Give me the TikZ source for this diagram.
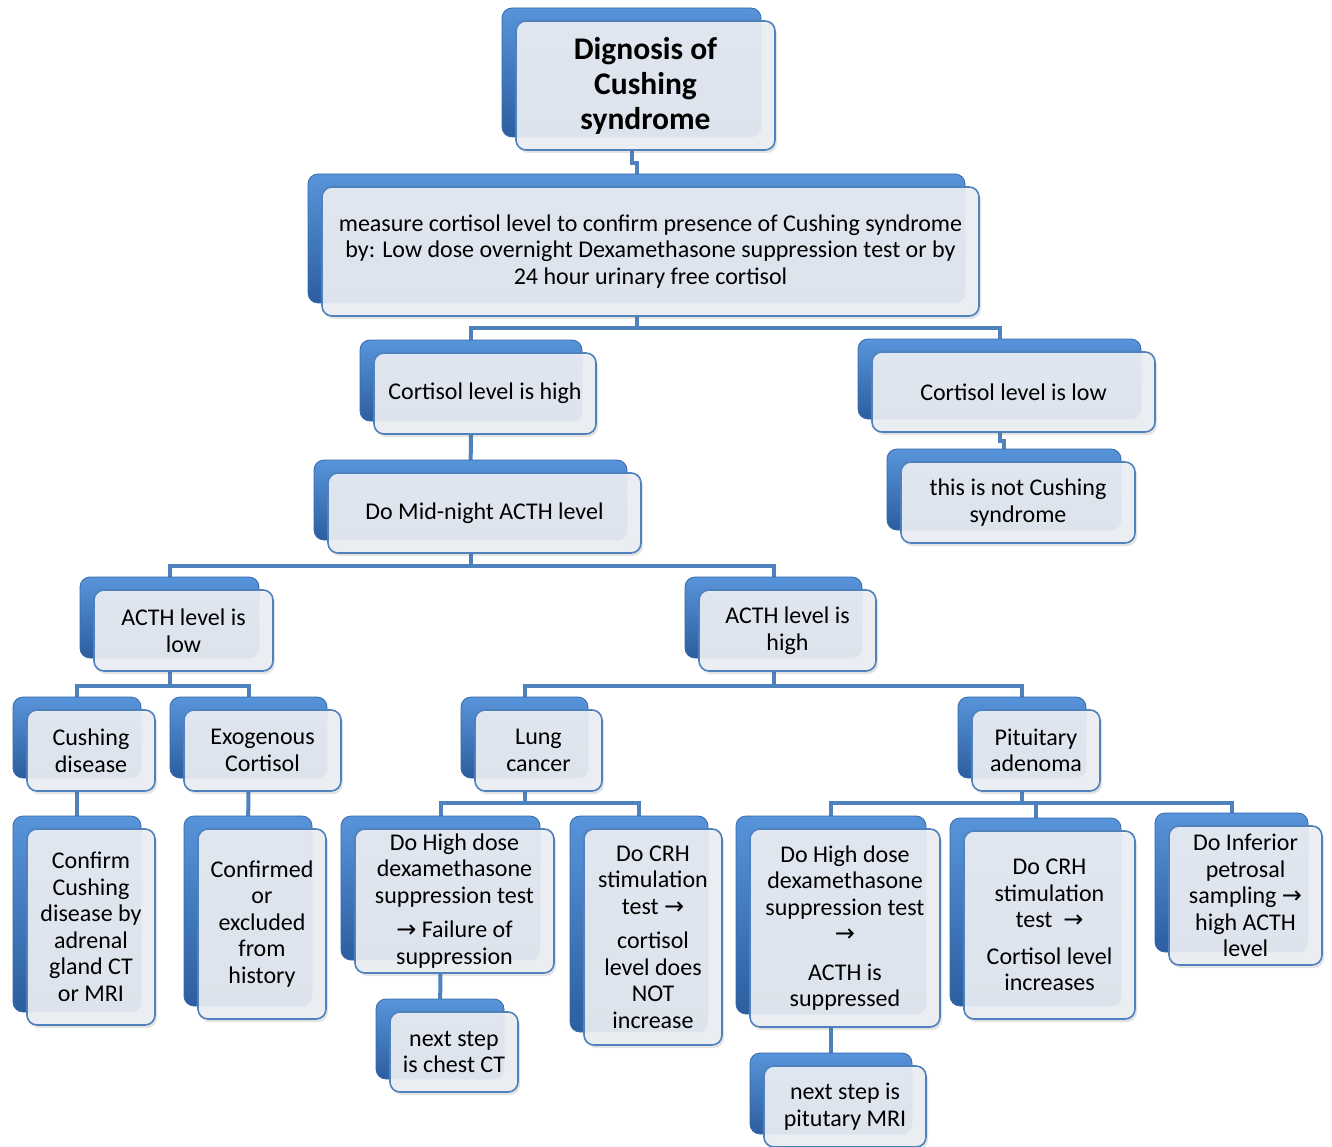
\documentclass[tikz,border=0pt]{standalone}
\usepackage{fontspec}
\setmainfont{Carlito}
\newfontfamily\arrowfont{DejaVu Sans}
\usetikzlibrary{shadows,backgrounds}
\definecolor{linkblue}{RGB}{79,129,189}
\definecolor{backtop}{RGB}{88,148,218}
\definecolor{backbot}{RGB}{44,94,160}
\definecolor{backedge}{RGB}{55,105,170}
\definecolor{frontfill}{RGB}{236,239,244}
\definecolor{frontedge}{RGB}{79,129,189}
\newcommand{\ra}{{\arrowfont\symbol{"2192}}}
\tikzset{
  stepbox/.style={rounded corners=10pt, draw=frontedge, line width=1.6pt,
    fill=frontfill, fill opacity=0.92, text opacity=1, inner sep=0pt, align=center,
    font=\fontsize{24}{26.5}\selectfont,
    general shadow={shadow xshift=-14pt, shadow yshift=13pt, fill opacity=1,
      draw=backedge, line width=0.8pt, top color=backtop, bottom color=backbot},
    drop shadow={shadow xshift=2pt, shadow yshift=-3pt, opacity=0.18, fill=black!60}},
  titlebox/.style={stepbox, font=\fontsize{31.5}{35}\selectfont\bfseries},
  link/.style={draw=linkblue, line width=4pt}
}
\begin{document}
\begin{tikzpicture}[x=1pt,y=-1pt]
\useasboundingbox (0,0) rectangle (1332,1147);
\node[titlebox, minimum width=259, minimum height=129] (title) at (645.5,85.5) {Dignosis of\\Cushing\\syndrome};
\node[stepbox, minimum width=657, minimum height=129] (meas) at (650.5,251.5) {measure cortisol level to confirm presence of Cushing syndrome\\by: Low dose overnight Dexamethasone suppression test or by\\24 hour urinary free cortisol};
\node[stepbox, minimum width=222, minimum height=81] (hi) at (485,393.5) {Cortisol level is high};
\node[stepbox, minimum width=283, minimum height=80] (lo) at (1013.5,392) {Cortisol level is low};
\node[stepbox, minimum width=234, minimum height=81] (notc) at (1018,502.5) {this is not Cushing\\syndrome};
\node[stepbox, minimum width=313, minimum height=80] (mid) at (484.5,513) {Do Mid-night ACTH level};
\node[stepbox, minimum width=179, minimum height=81] (acthlo) at (183.5,630.5) {ACTH level is\\low};
\node[stepbox, minimum width=177, minimum height=81] (acthhi) at (787.5,630.5) {ACTH level is\\high};
\node[stepbox, minimum width=128, minimum height=81] (cd) at (91,750.5) {Cushing\\disease};
\node[stepbox, minimum width=157, minimum height=81] (exo) at (262.5,750.5) {Exogenous\\Cortisol};
\node[stepbox, minimum width=127, minimum height=81] (lung) at (538.5,750.5) {Lung\\cancer};
\node[stepbox, minimum width=128, minimum height=81] (pit) at (1036,750.5) {Pituitary\\adenoma};
\node[stepbox, minimum width=128, minimum height=196] (conf) at (91,927) {Confirm\\Cushing\\disease by\\adrenal\\gland CT\\or MRI};
\node[stepbox, minimum width=128, minimum height=190] (excl) at (262,924) {Confirmed\\or\\excluded\\from\\history};
\node[stepbox, minimum width=199, minimum height=144] (hdlung) at (454.5,901) {Do High dose\\dexamethasone\\suppression test\\[8pt]\ra{} Failure of\\suppression};
\node[stepbox, minimum width=138, minimum height=216] (crhlung) at (653,937) {Do CRH\\stimulation\\test \ra\\[8pt]cortisol\\level does\\NOT\\increase};
\node[stepbox, minimum width=128, minimum height=80] (ct) at (454,1052) {next step\\is chest CT};
\node[stepbox, minimum width=190, minimum height=198] (hdpit) at (845,928) {Do High dose\\dexamethasone\\suppression test\\\ra\\[12pt]ACTH is\\suppressed};
\node[stepbox, minimum width=171, minimum height=188] (crhpit) at (1049.5,925) {Do CRH\\stimulation\\test~ \ra\\[10pt]Cortisol level\\increases};
\node[stepbox, minimum width=153, minimum height=139] (ips) at (1245.5,895.5) {Do Inferior\\petrosal\\sampling \ra\\high ACTH\\level};
\node[stepbox, minimum width=162, minimum height=81] (mri) at (845,1106.5) {next step is\\pitutary MRI};
\begin{scope}[on background layer]
\draw[link] ([xshift=-14pt]title.south) -- ++(0,12) -| ([xshift=-14pt]meas.north);
\draw[link] ([xshift=-14pt]meas.south) -- ++(0,11) -| ([xshift=-14pt]hi.north);
\draw[link] ([xshift=-14pt]meas.south) -- ++(0,11) -| ([xshift=-14pt]lo.north);
\draw[link] ([xshift=-14pt]hi.south) -- ([xshift=-14pt]mid.north);
\draw[link] ([xshift=-14pt]lo.south) -- ++(0,8) -| ([xshift=-14pt]notc.north);
\draw[link] ([xshift=-14pt]mid.south) -- ++(0,12) -| ([xshift=-14pt]acthlo.north);
\draw[link] ([xshift=-14pt]mid.south) -- ++(0,12) -| ([xshift=-14pt]acthhi.north);
\draw[link] ([xshift=-14pt]acthlo.south) -- ++(0,14) -| ([xshift=-14pt]cd.north);
\draw[link] ([xshift=-14pt]acthlo.south) -- ++(0,14) -| ([xshift=-14pt]exo.north);
\draw[link] ([xshift=-14pt]acthhi.south) -- ++(0,14) -| ([xshift=-14pt]lung.north);
\draw[link] ([xshift=-14pt]acthhi.south) -- ++(0,14) -| ([xshift=-14pt]pit.north);
\draw[link] ([xshift=-14pt]cd.south) -- ([xshift=-14pt]conf.north);
\draw[link] ([xshift=-14pt]exo.south) -- ([xshift=-14pt]excl.north);
\draw[link] ([xshift=-14pt]lung.south) -- ++(0,11) -| ([xshift=-14pt]hdlung.north);
\draw[link] ([xshift=-14pt]lung.south) -- ++(0,11) -| ([xshift=-14pt]crhlung.north);
\draw[link] ([xshift=-14pt]hdlung.south) -- ([xshift=-14pt]ct.north);
\draw[link] ([xshift=-14pt]pit.south) -- ++(0,11) -| ([xshift=-14pt]hdpit.north);
\draw[link] ([xshift=-14pt]pit.south) -- ++(0,11) -| ([xshift=-14pt]crhpit.north);
\draw[link] ([xshift=-14pt]pit.south) -- ++(0,11) -| ([xshift=-14pt]ips.north);
\draw[link] ([xshift=-14pt]hdpit.south) -- ([xshift=-14pt]mri.north);
\end{scope}
\end{tikzpicture}
\end{document}
